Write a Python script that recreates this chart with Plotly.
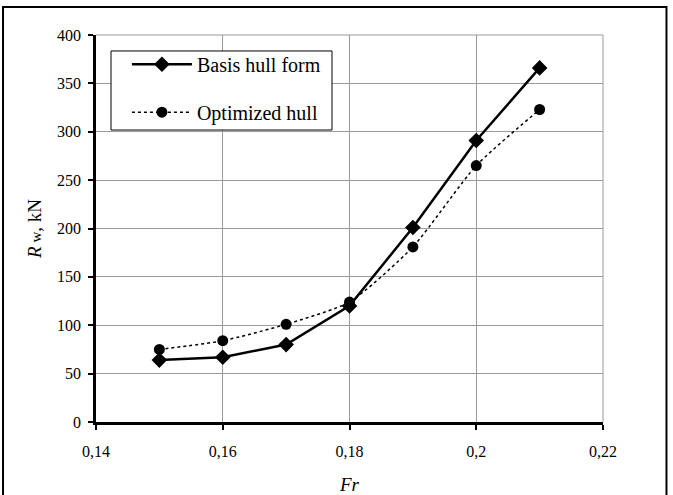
import plotly.graph_objects as go

fr = [0.15, 0.16, 0.17, 0.18, 0.19, 0.20, 0.21]
basis_hull = [64, 67, 80, 120, 201, 291, 366]
optimized_hull = [75, 84, 101, 124, 181, 265, 323]
x_ticks = [0.14, 0.16, 0.18, 0.20, 0.22]
y_ticks = [0, 50, 100, 150, 200, 250, 300, 350, 400]

FONT = "Liberation Serif, Times New Roman, serif"

fig = go.Figure()
fig.add_trace(go.Scatter(
    x=fr, y=basis_hull, name="Basis hull form", mode="lines+markers",
    line=dict(color="black", width=2.5),
    marker=dict(symbol="diamond", size=12, color="black"),
    legendgroup="a",
))
fig.add_trace(go.Scatter(
    x=fr, y=optimized_hull, name="Optimized hull", mode="lines+markers",
    line=dict(color="black", width=1.5, dash="dot", shape="spline", smoothing=0.6),
    marker=dict(symbol="circle", size=11, color="black"),
    legendgroup="b",
))

fig.update_layout(
    width=673, height=495,
    margin=dict(l=96, r=70, t=35, b=73),
    paper_bgcolor="white", plot_bgcolor="white",
    font=dict(family=FONT, size=16, color="black"),
    separators=", ",
    showlegend=True,
    legend=dict(
        x=0.061, y=0.975, xanchor="left", yanchor="top",
        borderwidth=0, bgcolor="rgba(0,0,0,0)",
        font=dict(family=FONT, size=20, color="black"),
        tracegroupgap=19, traceorder="grouped",
        itemwidth=60,
    ),
    xaxis=dict(
        range=[0.14, 0.22], tickvals=x_ticks, automargin=False,
        showgrid=True, gridcolor="#9a9a9a", gridwidth=1,
        showline=True, linecolor="black", linewidth=2.5,
        ticks="outside", ticklen=5, tickwidth=2, tickcolor="black",
        zeroline=False, ticklabelstandoff=8,
        title=dict(text="<i>Fr</i>", font=dict(family=FONT, size=19), standoff=24),
        tickfont=dict(family=FONT, size=16),
    ),
    yaxis=dict(
        range=[0, 400], tickvals=y_ticks, automargin=False,
        showgrid=True, gridcolor="#9a9a9a", gridwidth=1,
        showline=True, linecolor="black", linewidth=2.5,
        ticks="outside", ticklen=5, tickwidth=2, tickcolor="black",
        zeroline=False, ticklabelstandoff=4,
        title=dict(text="<i>R</i><span style='font-size:15px'> w</span>, kN",
                   font=dict(family=FONT, size=19), standoff=11),
        tickfont=dict(family=FONT, size=16),
    ),
    shapes=[
        dict(type="line", xref="paper", yref="paper", x0=1, x1=1, y0=0, y1=1,
             line=dict(color="#9a9a9a", width=1), layer="below"),
        dict(type="line", xref="paper", yref="paper", x0=0, x1=1, y0=1, y1=1,
             line=dict(color="#9a9a9a", width=1), layer="below"),
        dict(type="rect", xref="paper", yref="paper",
             x0=0.0296, x1=0.4655, y0=0.7545, y1=0.9587,
             fillcolor="white", line=dict(color="black", width=1), layer="above"),
        dict(type="rect", xref="paper", yref="paper",
             x0=-0.1834, x1=1.1252, y0=-0.3, y1=1.0724,
             line=dict(color="black", width=2)),
    ],
)

fig.write_html("out.html",
               config={"displayModeBar": False},
               post_script="document.body.style.margin='0';document.body.style.overflow='hidden';")
